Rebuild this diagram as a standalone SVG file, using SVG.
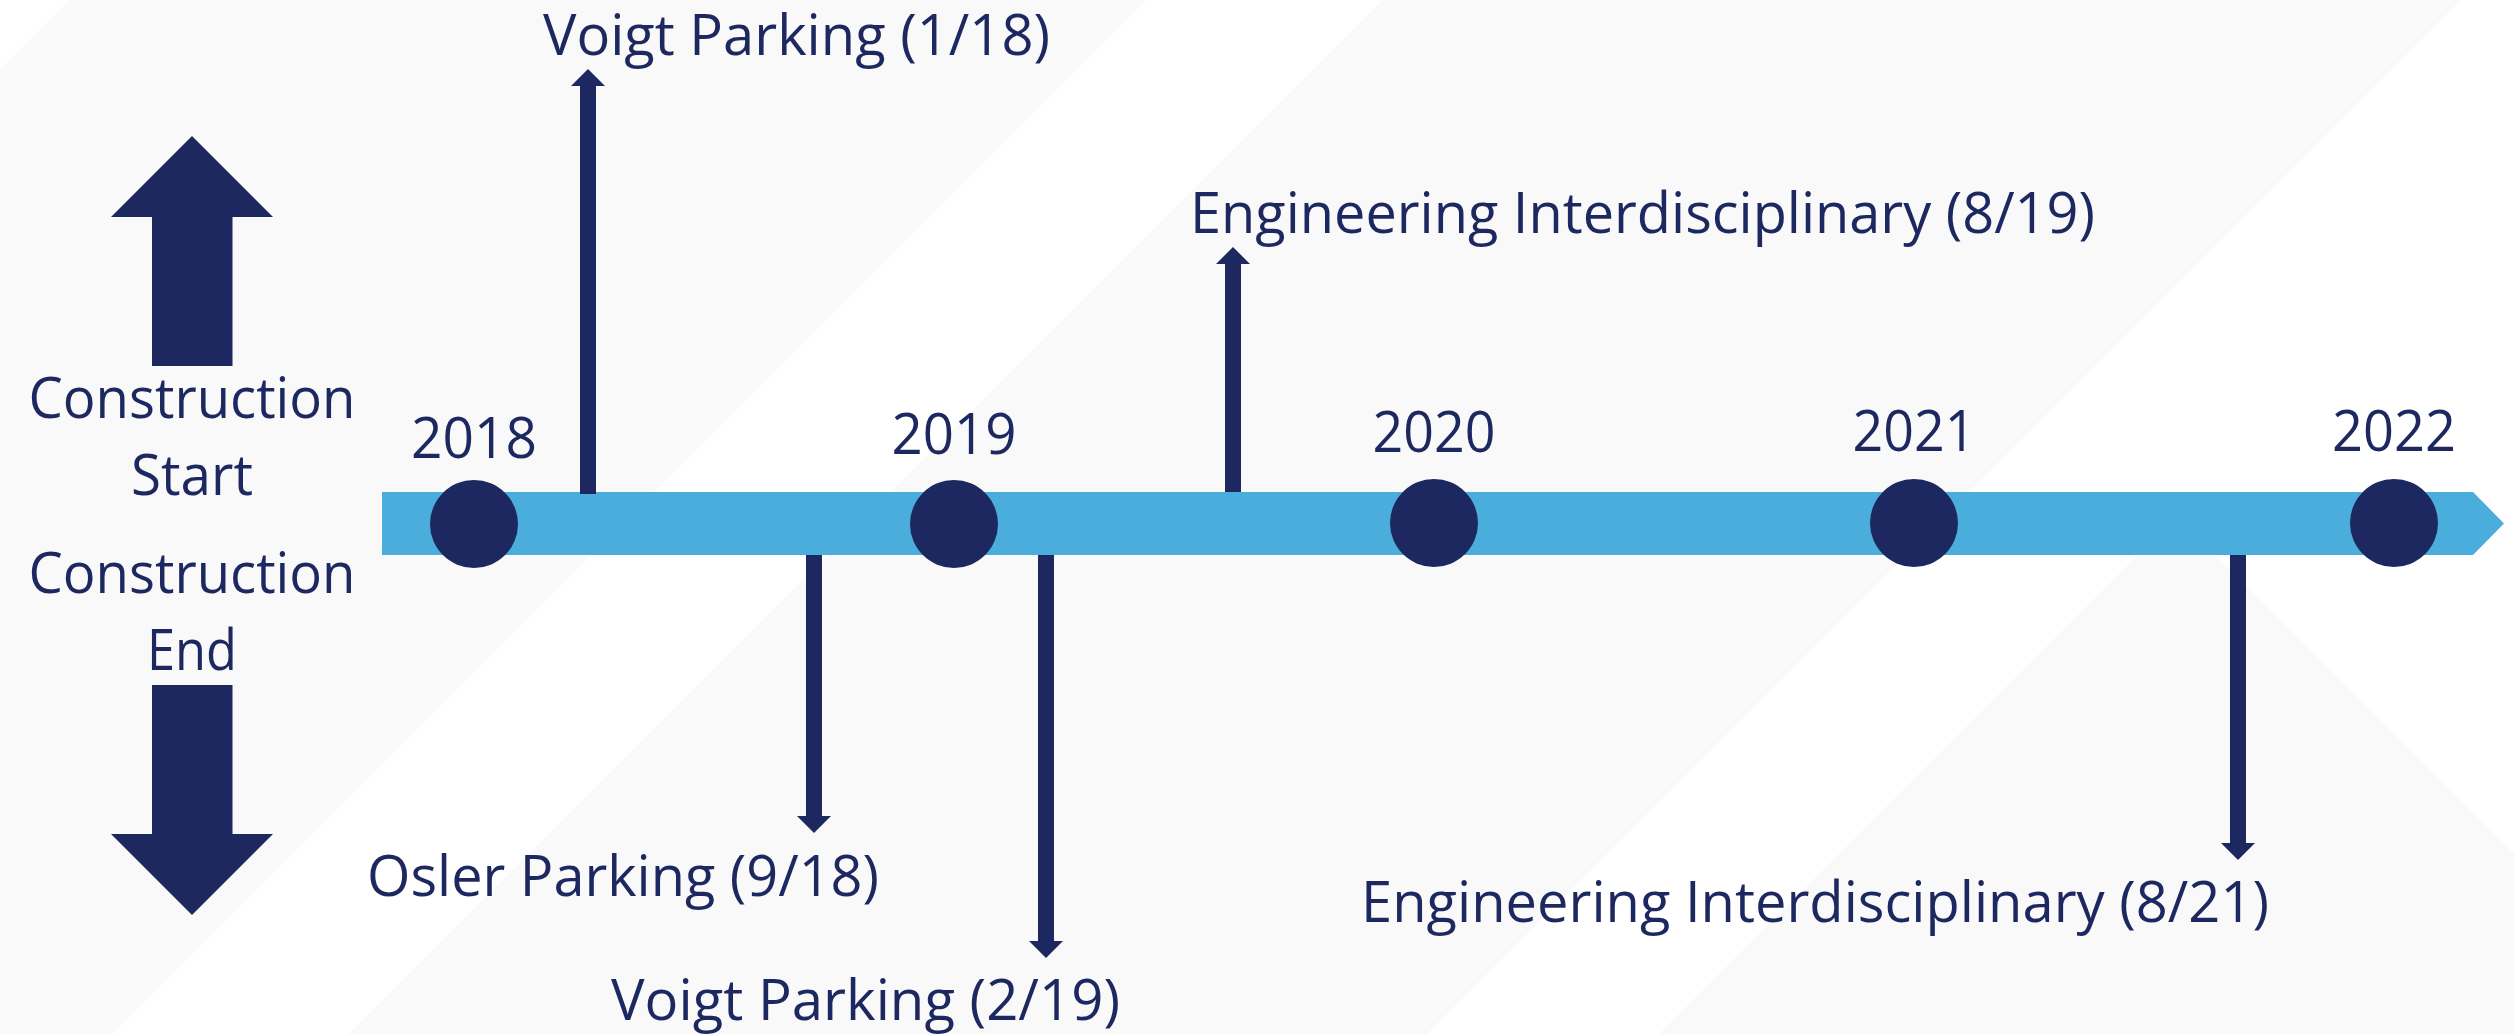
<svg xmlns="http://www.w3.org/2000/svg" width="2514" height="1034" viewBox="0 0 2514 1034">
  <style>
    .bg-grey { fill: #F9F9F9; }
    .navy { fill: #1C285F; }
    .bar { fill: #4AADDB; }
    .lbl { font-family: "Open Sans", "Noto Sans", "Liberation Sans", sans-serif; font-size: 56px; fill: #1C285F; }
    .conn { stroke: #1C285F; stroke-width: 16; fill: none; }
  </style>
  <defs>
    <marker id="head" markerUnits="userSpaceOnUse" viewBox="0 0 17 34" refX="0" refY="17" markerWidth="17" markerHeight="34" orient="auto">
      <path d="M0,0 L17,17 L0,34 Z" fill="#1C285F"/>
    </marker>
  </defs>

  <!-- background bands -->
  <rect x="0" y="0" width="2514" height="1034" fill="#FFFFFF"/>
  <g id="background">
    <polygon class="bg-grey" points="70,0 1146,0 112,1034 0,1034 0,70"/>
    <polygon class="bg-grey" points="1383,0 2461,0 1427,1034 349,1034"/>
    <polygon class="bg-grey" points="2176.5,516.5 2514,854 2514,1034 1659,1034"/>
  </g>

  <!-- timeline bar -->
  <g id="timeline">
    <polygon class="bar" points="382,492 2473,492 2504,523.5 2473,555 382,555"/>
  </g>

  <!-- connectors -->
  <g id="connectors">
    <line class="conn" x1="588" y1="494" x2="588" y2="86" marker-end="url(#head)"/>
    <line class="conn" x1="1233" y1="492" x2="1233" y2="264" marker-end="url(#head)"/>
    <line class="conn" x1="814" y1="555" x2="814" y2="816" marker-end="url(#head)"/>
    <line class="conn" x1="1046" y1="555" x2="1046" y2="941" marker-end="url(#head)"/>
    <line class="conn" x1="2238" y1="555" x2="2238" y2="843" marker-end="url(#head)"/>
  </g>

  <!-- year markers -->
  <g id="year-2018">
    <circle class="navy" cx="474" cy="524" r="44"/>
    <text class="lbl" x="474" y="458" text-anchor="middle" textLength="126" lengthAdjust="spacingAndGlyphs">2018</text>
  </g>
  <g id="year-2019">
    <circle class="navy" cx="954" cy="524" r="44"/>
    <text class="lbl" x="954" y="454" text-anchor="middle" textLength="125" lengthAdjust="spacingAndGlyphs">2019</text>
  </g>
  <g id="year-2020">
    <circle class="navy" cx="1434" cy="523" r="44"/>
    <text class="lbl" x="1434" y="452" text-anchor="middle" textLength="123" lengthAdjust="spacingAndGlyphs">2020</text>
  </g>
  <g id="year-2021">
    <circle class="navy" cx="1914" cy="523" r="44"/>
    <text class="lbl" x="1914" y="451" text-anchor="middle" textLength="123" lengthAdjust="spacingAndGlyphs">2021</text>
  </g>
  <g id="year-2022">
    <circle class="navy" cx="2394" cy="523" r="44"/>
    <text class="lbl" x="2394" y="451" text-anchor="middle" textLength="124" lengthAdjust="spacingAndGlyphs">2022</text>
  </g>

  <!-- event labels -->
  <g id="event-voigt-1-18">
    <text class="lbl" x="543" y="55" textLength="507" lengthAdjust="spacingAndGlyphs">Voigt Parking (1/18)</text>
  </g>
  <g id="event-eng-8-19">
    <text class="lbl" x="1190" y="233" textLength="905" lengthAdjust="spacingAndGlyphs">Engineering Interdisciplinary (8/19)</text>
  </g>
  <g id="event-osler-9-18">
    <text class="lbl" x="367" y="896" textLength="512" lengthAdjust="spacingAndGlyphs">Osler Parking (9/18)</text>
  </g>
  <g id="event-voigt-2-19">
    <text class="lbl" x="611" y="1020" textLength="509" lengthAdjust="spacingAndGlyphs">Voigt Parking (2/19)</text>
  </g>
  <g id="event-eng-8-21">
    <text class="lbl" x="1361" y="922" textLength="908" lengthAdjust="spacingAndGlyphs">Engineering Interdisciplinary (8/21)</text>
  </g>

  <!-- legend -->
  <g id="legend-start">
    <polygon class="navy" points="192,136 273,217 232.5,217 232.5,366 152,366 152,217 111,217"/>
    <text class="lbl" x="192" y="418" text-anchor="middle" textLength="327" lengthAdjust="spacingAndGlyphs">Construction</text>
    <text class="lbl" x="192" y="495" text-anchor="middle" textLength="122" lengthAdjust="spacingAndGlyphs">Start</text>
  </g>
  <g id="legend-end">
    <text class="lbl" x="192" y="593" text-anchor="middle" textLength="327" lengthAdjust="spacingAndGlyphs">Construction</text>
    <text class="lbl" x="192" y="670" text-anchor="middle" textLength="90" lengthAdjust="spacingAndGlyphs">End</text>
    <polygon class="navy" points="152,685 232.5,685 232.5,834 273,834 192,915 111,834 152,834"/>
  </g>
</svg>
